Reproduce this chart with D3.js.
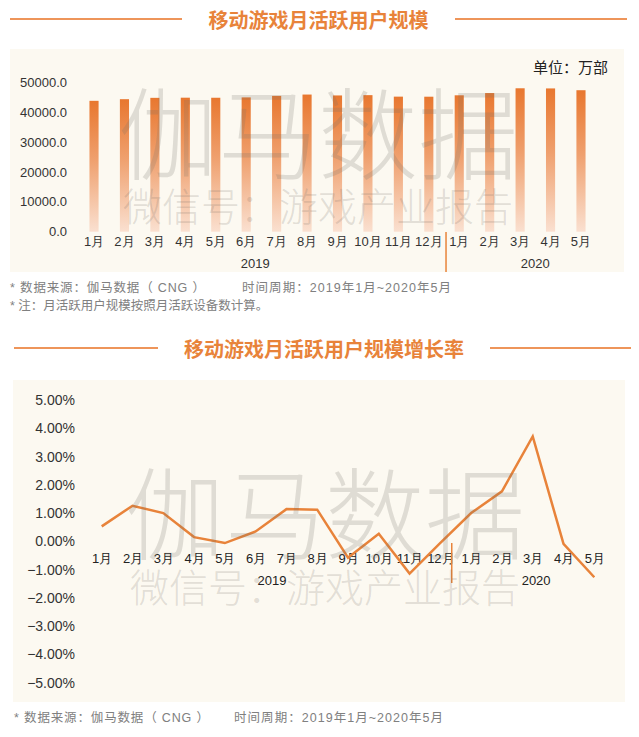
<!DOCTYPE html>
<html><head><meta charset="utf-8">
<script src="https://cdn.jsdelivr.net/npm/d3@7"></script>
<style>
html,body{margin:0;padding:0;background:#fff;}
svg{display:block;font-family:"Liberation Sans","Noto Sans CJK SC",sans-serif;}
</style></head><body>
<svg id="c" width="639" height="737"></svg>
<script>
const months = ["1月","2月","3月","4月","5月","6月","7月","8月","9月","10月","11月","12月","1月","2月","3月","4月","5月"];
const years = ["2019","2020"];
const mau = [43800,44350,44800,44850,44830,44950,45450,45900,45600,45700,45200,45180,45650,46400,48000,47950,47350];
const growth = [0.53,1.26,1.0,0.15,-0.06,0.35,1.14,1.12,-0.58,0.27,-1.14,-0.05,1.0,1.77,3.71,-0.09,-1.27];
const barTicks = [0,10000,20000,30000,40000,50000];
const lineTicks = [5,4,3,2,1,0,-1,-2,-3,-4,-5];
const title1 = "移动游戏月活跃用户规模";
const title2 = "移动游戏月活跃用户规模增长率";
const unitLabel = "单位：万部";
const notes1 = ["*  数据来源：伽马数据（ CNG ）", "时间周期：2019年1月~2020年5月"];
const notes2 = "*  注：月活跃用户规模按照月活跃设备数计算。";

const ORANGE = "#E8833A";
const BG = "#FCF9F1";
const svg = d3.select("#c");

const defs = svg.append("defs");
const g = defs.append("linearGradient").attr("id","barGrad").attr("x1",0).attr("y1",0).attr("x2",0).attr("y2",1);
g.append("stop").attr("offset","0%").attr("stop-color","#E8772F");
g.append("stop").attr("offset","45%").attr("stop-color","#EFA06E");
g.append("stop").attr("offset","100%").attr("stop-color","#FAE0D0");

function title(text, y, l1, l2, r1, r2){
  svg.append("line").attr("x1",l1).attr("x2",l2).attr("y1",y).attr("y2",y).attr("stroke","#EE955A").attr("stroke-width",2);
  svg.append("line").attr("x1",r1).attr("x2",r2).attr("y1",y).attr("y2",y).attr("stroke","#EE955A").attr("stroke-width",2);
  svg.append("text").attr("x",(l2+r1)/2).attr("y",y).attr("text-anchor","middle").attr("dominant-baseline","central")
    .attr("font-family","Noto Sans CJK SC").attr("font-weight","bold").attr("font-size",20).attr("fill",ORANGE).text(text);
}
function watermark(cx, y1, y2){
  const wm = svg.append("g").attr("fill","rgb(120,112,104)").attr("fill-opacity",0.21).attr("font-family","Noto Sans CJK SC").attr("font-weight",300);
  wm.append("text").attr("x",cx).attr("y",y1).attr("text-anchor","middle").attr("dominant-baseline","central").attr("font-size",100).text("伽马数据");
  wm.append("text").attr("x",cx).attr("y",y2).attr("text-anchor","middle").attr("dominant-baseline","central").attr("font-size",39).text("微信号：游戏产业报告");
}
function note(text, x, y, len){
  const t = svg.append("text").attr("x",x).attr("y",y).attr("dominant-baseline","central").attr("font-size",12.5).attr("fill","#808080").text(text);
  if (len) t.attr("textLength",len).attr("lengthAdjust","spacing");
}

// ---------- Chart 1 ----------
title(title1, 19, 10, 182, 455, 627);
svg.append("rect").attr("x",10).attr("y",49).attr("width",614).attr("height",223).attr("fill",BG);

const x1 = d3.scaleBand().domain(d3.range(months.length)).range([78.8,596.2]).paddingInner(0.7).paddingOuter(0.35);
const y1 = d3.scaleLinear().domain([0,50000]).range([231.7,82.3]);

svg.append("g").selectAll("rect").data(mau).join("rect")
  .attr("x",(d,i)=>x1(i)).attr("width",x1.bandwidth())
  .attr("y",d=>y1(d)).attr("height",d=>y1(0)-y1(d)).attr("fill","url(#barGrad)");

const ya1 = svg.append("g").attr("transform","translate(72,0)")
  .call(d3.axisLeft(y1).tickValues(barTicks).tickFormat(d=>d3.format(".1f")(d)).tickSize(0).tickPadding(5));
ya1.select(".domain").remove();
ya1.selectAll("text").attr("font-size",13).attr("fill","#333").attr("font-family","Liberation Sans");

const xa1 = svg.append("g").attr("transform","translate(0,235)")
  .call(d3.axisBottom(x1).tickFormat(i=>months[i]).tickSize(0).tickPadding(2));
xa1.select(".domain").remove();
xa1.selectAll("text").attr("font-size",13).attr("fill","#333");

const sep1 = (x1(11)+x1(12)+x1.bandwidth())/2 + 2;
svg.append("line").attr("x1",sep1).attr("x2",sep1).attr("y1",232).attr("y2",272).attr("stroke",ORANGE).attr("stroke-width",1.5);
const bc = i => x1(i)+x1.bandwidth()/2;
svg.append("text").attr("x",bc(5)+9).attr("y",263).attr("text-anchor","middle").attr("dominant-baseline","central").attr("font-size",13).attr("fill","#333").text(years[0]);
svg.append("text").attr("x",(bc(14)+bc(15))/2).attr("y",263).attr("text-anchor","middle").attr("dominant-baseline","central").attr("font-size",13).attr("fill","#333").text(years[1]);

svg.append("text").attr("x",608).attr("y",66).attr("text-anchor","end").attr("dominant-baseline","central").attr("font-size",15).attr("fill","#222").attr("font-family","Noto Sans CJK SC").text(unitLabel);

watermark(318, 128, 204);

// notes
note(notes1[0], 10, 288, 195);
note(notes1[1], 242, 288, 209);
note(notes2, 10, 306);

// ---------- Chart 2 ----------
title(title2, 348, 14, 158, 490, 631);
svg.append("rect").attr("x",13).attr("y",380).attr("width",612).attr("height",322).attr("fill",BG);

const x2 = d3.scalePoint().domain(d3.range(months.length)).range([101.7,594.3]);
const y2 = d3.scaleLinear().domain([-5,5]).range([682.7,400]);

const ya2 = svg.append("g").attr("transform","translate(80,0)")
  .call(d3.axisLeft(y2).tickValues(lineTicks).tickFormat(d=>d3.format(".2f")(d)+"%").tickSize(0).tickPadding(5));
ya2.select(".domain").remove();
ya2.selectAll("text").attr("font-size",14).attr("fill","#333").attr("font-family","Liberation Sans");

const xa2 = svg.append("g").attr("transform","translate(0,552)")
  .call(d3.axisBottom(x2).tickFormat(i=>months[i]).tickSize(0).tickPadding(2));
xa2.select(".domain").remove();
xa2.selectAll("text").attr("font-size",13).attr("fill","#222");

const sep2 = (x2(11)+x2(12))/2 - 4;
svg.append("line").attr("x1",sep2).attr("x2",sep2).attr("y1",543).attr("y2",583).attr("stroke",ORANGE).attr("stroke-width",1.5);
svg.append("text").attr("x",(x2(5)+x2(6))/2 + 1).attr("y",580).attr("text-anchor","middle").attr("dominant-baseline","central").attr("font-size",13).attr("fill","#222").text(years[0]);
svg.append("text").attr("x",(x2(14)+x2(15))/2 - 12).attr("y",580).attr("text-anchor","middle").attr("dominant-baseline","central").attr("font-size",13).attr("fill","#222").text(years[1]);

svg.append("path").datum(growth)
  .attr("d", d3.line().x((d,i)=>x2(i)).y(d=>y2(d)))
  .attr("fill","none").attr("stroke",ORANGE).attr("stroke-width",2.5).attr("stroke-linejoin","miter");

watermark(325, 508, 585);

note(notes1[0], 14, 718, 195);
note(notes1[1], 234, 718, 209);
</script>
</body></html>
